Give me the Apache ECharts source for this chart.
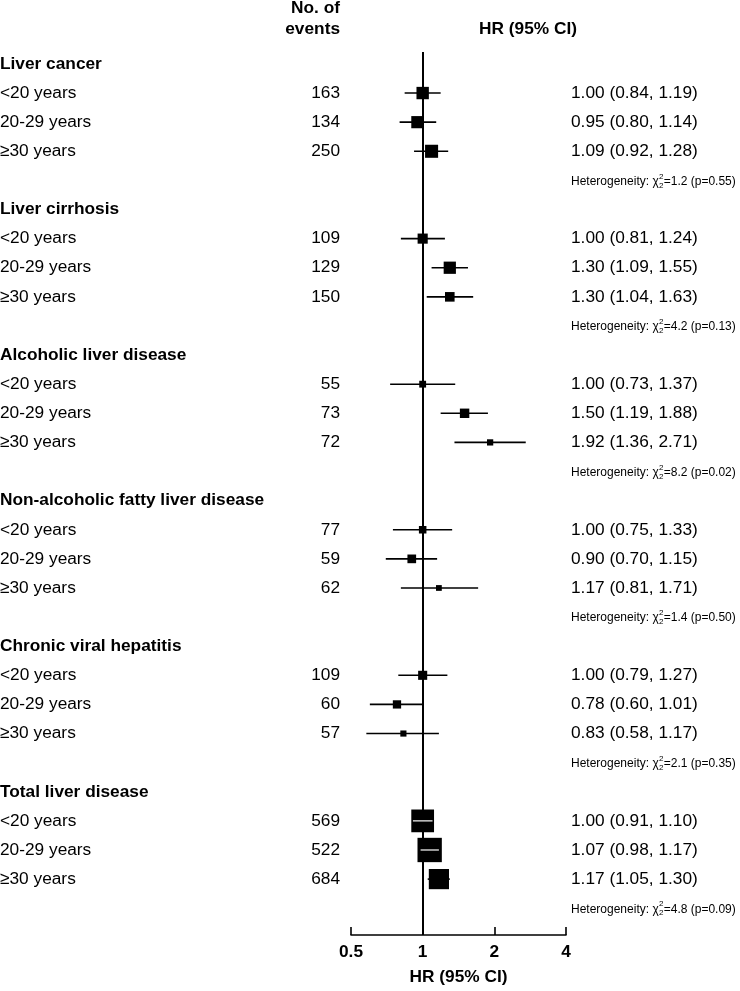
<!DOCTYPE html>
<html><head><meta charset="utf-8">
<script src="https://cdn.jsdelivr.net/npm/echarts@6/dist/echarts.min.js"></script>
<style>html,body{margin:0;padding:0;background:#fff}#c{width:740px;height:991px}</style>
</head><body><div id="c"></div>
<script>
// ---------- data ----------
const groups = ['Liver cancer','Liver cirrhosis','Alcoholic liver disease','Non-alcoholic fatty liver disease','Chronic viral hepatitis','Total liver disease'];
const ageBands = ['<20 years','20-29 years','\u226530 years'];
const events = [[163,134,250],[109,129,150],[55,73,72],[77,59,62],[109,60,57],[569,522,684]];
const hr = [[1.00,0.95,1.09],[1.00,1.30,1.30],[1.00,1.50,1.92],[1.00,0.90,1.17],[1.00,0.78,0.83],[1.00,1.07,1.17]];
const lo = [[0.84,0.80,0.92],[0.81,1.09,1.04],[0.73,1.19,1.36],[0.75,0.70,0.81],[0.79,0.60,0.58],[0.91,0.98,1.05]];
const hi = [[1.19,1.14,1.28],[1.24,1.55,1.63],[1.37,1.88,2.71],[1.33,1.15,1.71],[1.27,1.01,1.17],[1.10,1.17,1.30]];
const hetChi2 = ['1.2','4.2','8.2','1.4','2.1','4.8'];
const hetP = ['0.55','0.13','0.02','0.50','0.35','0.09'];
const xTicks = [0.5,1,2,4];

// ---------- layout ----------
const FF = '"Liberation Sans", Arial, Helvetica, sans-serif';
const F_MAIN = 17.3, F_HET = 12, F_SUP = 8;
const X_LABEL = 0, X_EVENTS = 340, X_HR = 571;
const SLOTS_PER_GROUP = 5;
const BOX_K = 1.1;

const ctx = document.createElement('canvas').getContext('2d');
function tw(text, size, weight){ ctx.font = (weight||'normal') + ' ' + size + 'px ' + FF; return ctx.measureText(text).width; }
const fmt = v => v.toFixed(2);

// build rows
const textRows = [];   // {slot, kind, ...}
const forestData = []; // [hr, lo, hi, slot]
groups.forEach((g, gi) => {
  const base = gi * SLOTS_PER_GROUP;
  textRows.push({slot: base, kind: 'header', text: g});
  ageBands.forEach((a, j) => {
    const s = base + 1 + j;
    textRows.push({slot: s, kind: 'row', text: a, ev: String(events[gi][j]),
      ci: fmt(hr[gi][j]) + ' (' + fmt(lo[gi][j]) + ', ' + fmt(hi[gi][j]) + ')'});
    forestData.push([hr[gi][j], lo[gi][j], hi[gi][j], s]);
  });
  textRows.push({slot: base + 4, kind: 'het', chi: hetChi2[gi], p: hetP[gi]});
});

function txt(x, y, text, size, weight, align){
  return {type:'text', x:x, y:y, style:{text:text, fontSize:size, fontWeight:weight||'normal', fontFamily:FF,
    fill:'#000', align:align||'left', verticalAlign:'middle'}};
}

function renderText(params, api){
  const r = textRows[api.value(2)];
  const y = api.coord([1, api.value(1)])[1];
  if (r.kind === 'header') return txt(X_LABEL, y, r.text, F_MAIN, 'bold');
  if (r.kind === 'row') return {type:'group', children:[
    txt(X_LABEL, y, r.text, F_MAIN),
    txt(X_EVENTS, y, r.ev, F_MAIN, 'normal', 'right'),
    txt(X_HR, y, r.ci, F_MAIN)
  ]};
  const p1 = 'Heterogeneity: \u03c7';
  const w1 = tw(p1, F_HET);
  const w2 = tw('2', F_SUP);
  const y0 = y + 1;
  return {type:'group', children:[
    txt(X_HR, y0, p1, F_HET),
    txt(X_HR + w1 + 0.3, y0 - 5, '2', F_SUP),
    txt(X_HR + w1 + 0.3, y0 + 4, '2', F_SUP),
    txt(X_HR + w1 + w2 + 0.6, y0, '=' + r.chi + ' (p=' + r.p + ')', F_HET)
  ]};
}

function renderForest(params, api){
  const h = api.value(0), l = api.value(1), u = api.value(2), s = api.value(3);
  const c = api.coord([h, s]), pl = api.coord([l, s]), pu = api.coord([u, s]);
  const side = BOX_K * 3.92 / Math.log(u / l);
  const half = side / 2;
  const inside = pl[0] >= c[0] - half - 0.5 && pu[0] <= c[0] + half + 0.5;
  const ch = [
    {type:'line', shape:{x1:pl[0], y1:c[1], x2:pu[0], y2:c[1]}, style:{stroke:'#000', lineWidth:1.6}},
    {type:'rect', shape:{x:c[0]-half, y:c[1]-half, width:side, height:side}, style:{fill:'#000'}}
  ];
  if (inside) ch.push({type:'line', shape:{x1:pl[0], y1:c[1], x2:pu[0], y2:c[1]}, style:{stroke:'#fff', lineWidth:1.2}});
  return {type:'group', children: ch};
}

const totalSlots = groups.length * SLOTS_PER_GROUP;
const chart = echarts.init(document.getElementById('c'), null, {renderer:'canvas'});
chart.setOption({
  animation: false,
  backgroundColor: '#fff',
  grid: {left: 351, right: 174, top: 52, bottom: 51, containLabel: false},
  xAxis: {
    type: 'log', logBase: 2, min: xTicks[0], max: xTicks[xTicks.length-1], position: 'bottom',
    axisLine: {show:true, onZero:false, lineStyle:{color:'#000', width:1.6}},
    axisTick: {show:true, inside:true, length:8, lineStyle:{color:'#000', width:1.6}},
    axisLabel: {color:'#000', fontSize:F_MAIN, fontWeight:'bold', fontFamily:FF, margin:9,
      formatter: v => String(+(+v).toFixed(2))},
    splitLine: {show:false},
    name: 'HR (95% CI)', nameLocation: 'middle', nameGap: 34,
    nameTextStyle: {color:'#000', fontSize:F_MAIN, fontWeight:'bold', fontFamily:FF}
  },
  yAxis: {type:'value', inverse:true, min:-0.41, max: totalSlots - 0.08, show:false},
  graphic: [
    {type:'text', x:X_EVENTS, y:8, style:{text:'No. of', align:'right', verticalAlign:'middle', fontSize:F_MAIN, fontWeight:'bold', fontFamily:FF, fill:'#000'}},
    {type:'text', x:X_EVENTS, y:29, style:{text:'events', align:'right', verticalAlign:'middle', fontSize:F_MAIN, fontWeight:'bold', fontFamily:FF, fill:'#000'}},
    {type:'text', x:528, y:29, style:{text:'HR (95% CI)', align:'center', verticalAlign:'middle', fontSize:F_MAIN, fontWeight:'bold', fontFamily:FF, fill:'#000'}}
  ],
  series: [
    {type:'custom', name:'ref', data:[], silent:true, z:1,
      markLine:{silent:true, z:1, symbol:['none','none'], label:{show:false},
        lineStyle:{color:'#000', width:2, type:'solid'}, data:[{xAxis:1}]}},
    {type:'custom', name:'forest', renderItem: renderForest, data: forestData, silent:true, clip:false, z:10},
    {type:'custom', name:'text', renderItem: renderText, silent:true, clip:false, z:10,
      data: textRows.map((r, i) => [1, r.slot, i])}
  ]
});
</script></body></html>
